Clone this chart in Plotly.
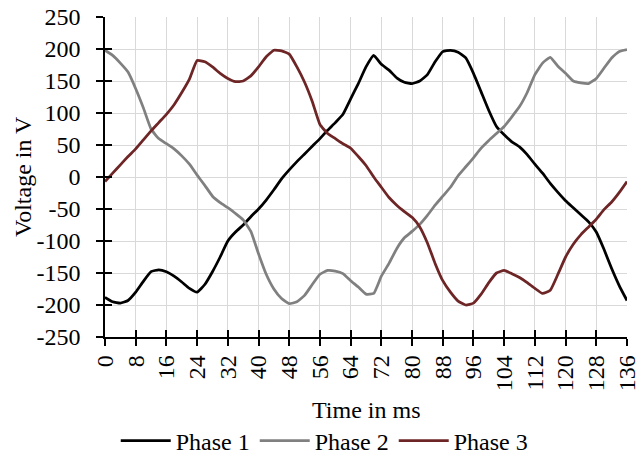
import plotly.graph_objects as go

time_ms = [0, 2, 4, 6, 8, 10, 12, 14, 16, 18, 20, 22, 24, 26, 28, 30, 32, 34, 36, 38,
           40, 42, 44, 46, 48, 50, 52, 54, 56, 58, 60, 62, 64, 66, 68, 70, 72, 74, 76, 78,
           80, 82, 84, 86, 88, 90, 92, 94, 96, 98, 100, 102, 104, 106, 108, 110, 112, 114,
           116, 118, 120, 122, 124, 126, 128, 130, 132, 134, 136]

phase1 = [-188, -195, -197, -193, -180, -163, -148, -145, -148, -155, -164, -174, -180, -168,
          -148, -125, -100, -86, -75, -62, -50, -36, -20, -3, 11, 24, 36, 48, 60, 73, 85, 98,
          122, 146, 172, 190, 176, 167, 155, 148, 146, 150, 160, 180, 196, 198, 195, 186, 162,
          133, 104, 79, 66, 55, 47, 35, 20, 6, -10, -24, -37, -48, -59, -70, -86, -113, -143,
          -170, -193]

phase2 = [198, 190, 178, 164, 138, 108, 75, 60, 52, 44, 33, 20, 3, -13, -30, -40, -48, -57,
          -67, -85, -120, -152, -175, -190, -198, -195, -185, -168, -152, -146, -147, -151,
          -162, -172, -183, -182, -155, -135, -112, -95, -85, -74, -60, -44, -30, -16, 2, 16,
          30, 45, 57, 68, 79, 94, 110, 132, 160, 178, 187, 173, 162, 150, 147, 146, 154, 170,
          186, 196, 199]

phase3 = [-7, 6, 19, 32, 44, 58, 72, 85, 98, 113, 132, 153, 182, 180, 172, 162, 154, 149,
          150, 158, 172, 188, 198, 197, 192, 172, 148, 118, 82, 68, 60, 52, 45, 32, 18, 0,
          -16, -32, -44, -54, -63, -78, -103, -135, -162, -180, -194, -200, -197, -183, -165,
          -150, -146, -151, -157, -165, -174, -182, -177, -152, -125, -105, -90, -78, -66,
          -51, -39, -24, -7]

series_names = ["Phase 1", "Phase 2", "Phase 3"]
series_colors = ["#000000", "#808080", "#6e2526"]

x_ticks = [0, 8, 16, 24, 32, 40, 48, 56, 64, 72, 80, 88, 96, 104, 112, 120, 128, 136]
y_ticks = [-250, -200, -150, -100, -50, 0, 50, 100, 150, 200, 250]
y_tick_text = ["-250", "-200", "-150", "-100", "-50", "0", "50", "100", "150", "200", "250"]

FONT = "Liberation Serif"
FS = 24
GRID = "#d9d9d9"

fig = go.Figure()
for name, vals, col in zip(series_names, [phase1, phase2, phase3], series_colors):
    fig.add_trace(go.Scatter(x=time_ms, y=vals, mode="lines", name=name,
                             line=dict(color=col, width=2.75, shape="spline", smoothing=0.4)))

# invisible trace hosting the overlay axes (inside half of the crossing ticks + grid)
fig.add_trace(go.Scatter(x=[0], y=[0], xaxis="x2", yaxis="y2", mode="markers",
                         marker=dict(opacity=0), showlegend=False, hoverinfo="skip"))

fig.update_layout(
    width=638, height=466,
    margin=dict(l=105, r=11, t=17, b=129, autoexpand=False),
    paper_bgcolor="white", plot_bgcolor="white",
    font=dict(family=FONT, size=FS, color="#000000"),
    showlegend=True,
    legend=dict(orientation="h", x=0.42, y=-0.395, xanchor="center", yanchor="bottom",
                font=dict(family=FONT, size=FS, color="#000000"),
                itemwidth=50, bgcolor="rgba(0,0,0,0)"),
    xaxis=dict(range=[0, 136], tickvals=x_ticks, ticktext=[str(v) for v in x_ticks],
               tickangle=-90, showgrid=True, gridcolor=GRID, gridwidth=1.3,
               showline=True, linecolor="#000000", linewidth=1.5,
               ticks="outside", ticklen=7, tickwidth=1.5, tickcolor="#000000",
               ticklabeloverflow="allow", layer="above traces",
               zeroline=False, automargin=False, tickfont=dict(family=FONT, size=FS)),
    yaxis=dict(range=[-250, 250], tickvals=y_ticks,
               ticktext=[t + "\u00a0" for t in y_tick_text],
               showgrid=True, gridcolor=GRID, gridwidth=1.3,
               showline=True, linecolor="#000000", linewidth=1.5,
               ticks="outside", ticklen=7, tickwidth=1.5, tickcolor="#000000",
               ticklabelstandoff=5, layer="above traces",
               zeroline=False, automargin=False, tickfont=dict(family=FONT, size=FS)),
    xaxis2=dict(range=[0, 136], overlaying="x", tickvals=x_ticks, showticklabels=False,
                ticks="inside", ticklen=7, tickwidth=1.5, tickcolor="#000000",
                showgrid=True, gridcolor=GRID, gridwidth=1.3,
                zeroline=False, showline=False, automargin=False),
    yaxis2=dict(range=[-250, 250], overlaying="y", tickvals=y_ticks, showticklabels=False,
                ticks="inside", ticklen=7, tickwidth=1.5, tickcolor="#000000",
                showgrid=True, gridcolor=GRID, gridwidth=1.3,
                zeroline=False, showline=False, automargin=False),
    annotations=[
        dict(text="Time in ms", xref="paper", yref="paper", x=0.5, y=-0.229,
             xanchor="center", yanchor="middle", showarrow=False,
             font=dict(family=FONT, size=FS, color="#000000")),
        dict(text="Voltage in V", xref="paper", yref="paper", x=-0.157, y=0.5,
             xanchor="center", yanchor="middle", showarrow=False, textangle=-90,
             font=dict(family=FONT, size=FS, color="#000000")),
    ],
)

# remove the default page margin so the figure sits at the window's top-left corner
fig.write_html("out.html", config={"displayModeBar": False},
               post_script="document.body.style.margin='0px';")
